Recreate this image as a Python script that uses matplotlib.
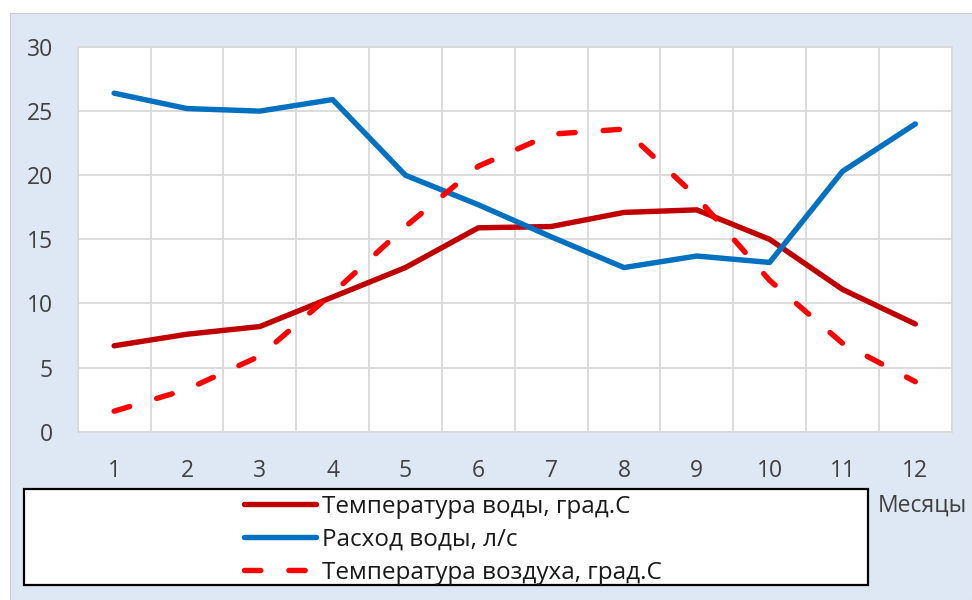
import matplotlib
matplotlib.use("Agg")
import matplotlib.pyplot as plt
from matplotlib.patches import Rectangle

plt.rcParams['font.family'] = ['Open Sans', 'DejaVu Sans']

# Monthly observations
months = [1, 2, 3, 4, 5, 6, 7, 8, 9, 10, 11, 12]
water_temp = [6.7, 7.6, 8.2, 10.5, 12.8, 15.9, 16.0, 17.1, 17.3, 15.0, 11.1, 8.4]
water_flow = [26.4, 25.2, 25.0, 25.9, 20.0, 17.7, 15.2, 12.8, 13.7, 13.2, 20.3, 24.0]
air_temp = [1.6, 3.3, 5.9, 10.8, 16.0, 20.7, 23.2, 23.6, 18.3, 11.8, 6.9, 3.9]

labels = ["Температура воды, град.С", "Расход воды, л/с", "Температура воздуха, град.С"]
y_ticks = [0, 5, 10, 15, 20, 25, 30]
x_title = "Месяцы"

W, H = 972, 600
fig = plt.figure(figsize=(W / 100, H / 100), dpi=100)
fig.patch.set_facecolor("white")

def fx(px):
    return px / W

def fy(py):
    return 1 - py / H

# chart panel
fig.patches.append(Rectangle((fx(10), 0), 1 - fx(10), fy(13), transform=fig.transFigure,
                             facecolor="#DEE8F4", edgecolor="#CCCCCC", lw=0.8, zorder=-10))

left, right, top, bottom = 77.7, 951.7, 47, 431.7
ax = fig.add_axes([fx(left), fy(bottom), fx(right - left), (bottom - top) / H])
ax.set_facecolor("white")

text_color = "#404040"
lw = 3.9
l1, = ax.plot(months, water_temp, color="#C00000", lw=lw, solid_capstyle="round",
              solid_joinstyle="round", zorder=3)
l2, = ax.plot(months, water_flow, color="#0070C0", lw=lw, solid_capstyle="round",
              solid_joinstyle="round", zorder=3)
l3, = ax.plot(months, air_temp, color="#FF0000", lw=lw, linestyle=(0, (3.0, 5.2)),
              dash_capstyle="round", dash_joinstyle="round", zorder=3)

ax.set_xlim(0.5, 12.5)
ax.set_ylim(0, 30)
ax.set_xticks(months)
ax.set_xticklabels([str(m) for m in months])
ax.set_yticks(y_ticks)
ax.set_xticks([m + 0.5 for m in [0] + months], minor=True)
ax.grid(False)
ax.grid(True, which="minor", axis="x", color="#D9D9D9", lw=1.3, zorder=1)
ax.grid(True, which="major", axis="y", color="#D9D9D9", lw=1.3, zorder=1)
ax.set_axisbelow(True)
ax.tick_params(which="both", length=0)
ax.tick_params(axis="x", pad=20, labelsize=16.5, colors=text_color)
ax.tick_params(axis="y", pad=18, labelsize=16.5, colors=text_color)
for s in ax.spines.values():
    s.set_color("#D9D9D9")
    s.set_linewidth(1.3)

# legend box
fig.patches.append(Rectangle((fx(24), fy(585)), fx(868 - 24), (585 - 489) / H,
                             transform=fig.transFigure, facecolor="white",
                             edgecolor="black", lw=1.6, zorder=-5))
fs = 17.5
fs_px = fs * 100 / 72
leg = fig.legend([l1, l2, l3], labels, loc="upper left",
                 bbox_to_anchor=(fx(244), fy(495)), frameon=False,
                 borderpad=0, borderaxespad=0, fontsize=fs,
                 handlelength=72 / fs_px, handletextpad=0.25, labelspacing=0.37)
for t in leg.get_texts():
    t.set_color("#1a1a1a")

fig.text(fx(878), fy(512), x_title, ha="left", va="baseline", fontsize=16.5, color=text_color)

fig.savefig("out.png", dpi=100, facecolor="white")
